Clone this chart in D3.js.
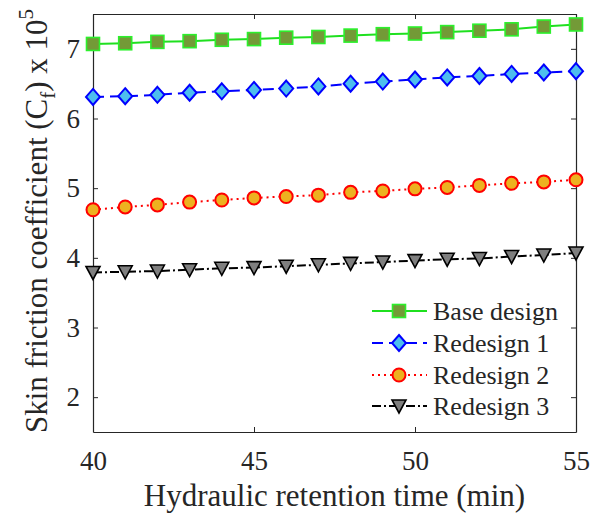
<!DOCTYPE html>
<html>
<head>
<meta charset="utf-8">
<script src="https://cdn.jsdelivr.net/npm/d3@7"></script>
<style>
  body { margin: 0; background: #fff; }
  svg { display: block; }
  svg text { font-family: 'Liberation Serif', 'Times New Roman', Times, serif !important; fill: #262626; }
</style>
</head>
<body>
<svg id="chart" width="590" height="513"></svg>
<script>
const hrt = [40,41,42,43,44,45,46,47,48,49,50,51,52,53,54,55];
const baseDesign = [7.07,7.08,7.10,7.11,7.13,7.14,7.16,7.17,7.19,7.21,7.22,7.24,7.26,7.28,7.32,7.35];
const redesign1  = [6.31,6.32,6.34,6.37,6.39,6.41,6.43,6.46,6.50,6.53,6.56,6.59,6.61,6.64,6.66,6.68];
const redesign2  = [4.69,4.73,4.76,4.80,4.83,4.86,4.88,4.90,4.94,4.96,4.99,5.01,5.04,5.07,5.09,5.12];
const redesign3  = [3.79,3.80,3.81,3.83,3.85,3.86,3.88,3.90,3.92,3.94,3.96,3.98,3.99,4.02,4.04,4.07];
const seriesNames = ["Base design","Redesign 1","Redesign 2","Redesign 3"];
const xTicks = [40,45,50,55];
const yTicks = [2,3,4,5,6,7];

const svg = d3.select("#chart");
const L = 93, R = 576, T = 14, B = 432;
const x = d3.scaleLinear().domain([40,55]).range([L,R]);
const y = d3.scaleLinear().domain([1.5,7.5]).range([B,T]);

const axisColor = "#262626";
const fmt = d3.format("d");

// Axes box
const gAx = svg.append("g");
const xb = gAx.append("g").attr("transform",`translate(0,${B})`)
  .call(d3.axisBottom(x).tickValues(xTicks).tickFormat(fmt).tickSizeInner(-5).tickSizeOuter(0).tickPadding(14));
const xt = gAx.append("g").attr("transform",`translate(0,${T})`)
  .call(d3.axisTop(x).tickValues(xTicks).tickSizeInner(-5).tickSizeOuter(0).tickFormat(""));
const yl = gAx.append("g").attr("transform",`translate(${L},0)`)
  .call(d3.axisLeft(y).tickValues(yTicks).tickFormat(fmt).tickSizeInner(-5).tickSizeOuter(0).tickPadding(13));
const yr = gAx.append("g").attr("transform",`translate(${R},0)`)
  .call(d3.axisRight(y).tickValues(yTicks).tickSizeInner(-5).tickSizeOuter(0).tickFormat(""));
gAx.selectAll("g").attr("font-family",null);
gAx.selectAll(".domain").attr("stroke",axisColor).attr("stroke-width",1.2);
gAx.selectAll(".tick line").attr("stroke",axisColor).attr("stroke-width",1);
gAx.selectAll(".tick text").attr("font-size",27).attr("fill",axisColor);
xb.selectAll(".tick text").attr("dy","0.9em");

// Axis labels
svg.append("text").attr("x",(L+R)/2).attr("y",506).attr("text-anchor","middle")
  .attr("font-size",31).text("Hydraulic retention time (min)");
const ylab = svg.append("text").attr("transform",`translate(47,${(T+B)/2 - 2}) rotate(-90)`)
  .attr("text-anchor","middle").attr("font-size",31);
ylab.append("tspan").text("Skin friction coefficient (C");
ylab.append("tspan").attr("font-size",21).attr("dy",8).text("f");
ylab.append("tspan").attr("dy",-8).text(") x 10");
ylab.append("tspan").attr("font-size",21).attr("dy",-14).text("5");

const series = [
  {name: seriesNames[0], values: baseDesign, line: "#1fe01f", dash: null, marker: "square", fill: "#739a37", edge: "#2cf02c"},
  {name: seriesNames[1], values: redesign1, line: "#0000ff", dash: "11,6", marker: "diamond", fill: "#4dbeee", edge: "#0000ff"},
  {name: seriesNames[2], values: redesign2, line: "#ff0000", dash: "2,4", marker: "circle", fill: "#edb120", edge: "#ff0000"},
  {name: seriesNames[3], values: redesign3, line: "#000000", dash: "9,3,2,3", marker: "triangle", fill: "#7f7f7f", edge: "#000000"}
];

function drawMarker(g, type, cx, cy, s) {
  if (type === "square") {
    g.append("rect").attr("x",cx-6.5).attr("y",cy-6.5).attr("width",13).attr("height",13)
      .attr("fill",s.fill).attr("stroke",s.edge).attr("stroke-width",1.6);
  } else if (type === "diamond") {
    g.append("path").attr("d",`M${cx},${cy-8}L${cx+7},${cy}L${cx},${cy+8}L${cx-7},${cy}Z`)
      .attr("fill",s.fill).attr("stroke",s.edge).attr("stroke-width",2);
  } else if (type === "circle") {
    g.append("circle").attr("cx",cx).attr("cy",cy).attr("r",6.5)
      .attr("fill",s.fill).attr("stroke",s.edge).attr("stroke-width",2);
  } else {
    g.append("path").attr("d",`M${cx-7},${cy-6}L${cx+7},${cy-6}L${cx},${cy+7}Z`)
      .attr("fill",s.fill).attr("stroke",s.edge).attr("stroke-width",1.6);
  }
}

const line = d3.line().x((d,i)=>x(hrt[i])).y(d=>y(d));
series.forEach(s => {
  const g = svg.append("g");
  g.append("path").datum(s.values).attr("d",line).attr("fill","none")
    .attr("stroke",s.line).attr("stroke-width",2).attr("stroke-dasharray",s.dash);
  s.values.forEach((v,i)=> drawMarker(g, s.marker, x(hrt[i]), y(v), s));
});

// Legend
const legY = [311,343,375,406];
series.forEach((s,i) => {
  const g = svg.append("g");
  const cy = legY[i];
  g.append("line").attr("x1",372).attr("x2",427).attr("y1",cy).attr("y2",cy)
    .attr("stroke",s.line).attr("stroke-width",2).attr("stroke-dasharray",s.dash);
  drawMarker(g, s.marker, 399, cy, s);
  g.append("text").attr("x",433).attr("y",cy+9).attr("font-size",26).text(s.name);
});
</script>
</body>
</html>
